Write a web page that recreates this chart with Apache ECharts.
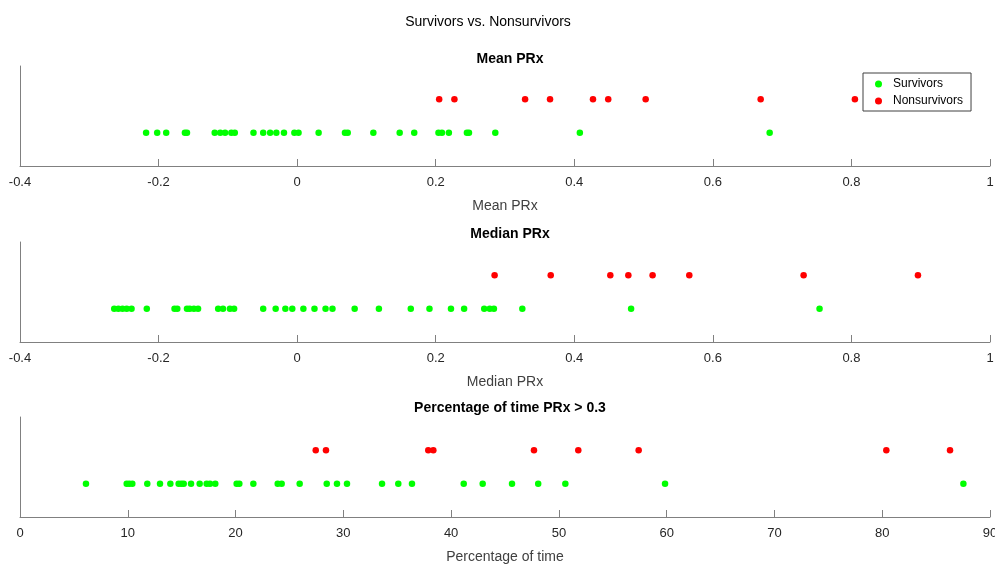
<!DOCTYPE html>
<html>
<head>
<meta charset="utf-8">
<script src="https://cdn.jsdelivr.net/npm/echarts@6/dist/echarts.min.js"></script>
<style>html,body{margin:0;padding:0;background:#fff}#c{width:995px;height:566px}</style>
</head>
<body>
<div id="c"></div>
<script>
// ---- data ----
const meanSurvivors = [-0.218,-0.202,-0.189,-0.162,-0.159,-0.119,-0.111,-0.104,-0.095,-0.090,-0.063,-0.049,-0.039,-0.030,-0.019,-0.004,0.002,0.031,0.069,0.073,0.110,0.148,0.169,0.204,0.209,0.219,0.245,0.248,0.286,0.408,0.682];
const meanNonsurvivors = [0.205,0.227,0.329,0.365,0.427,0.449,0.503,0.669,0.805];
const medianSurvivors = [-0.264,-0.258,-0.252,-0.246,-0.239,-0.217,-0.177,-0.173,-0.159,-0.155,-0.149,-0.143,-0.114,-0.107,-0.097,-0.091,-0.049,-0.031,-0.017,-0.007,0.009,0.025,0.041,0.051,0.083,0.118,0.164,0.191,0.222,0.241,0.270,0.278,0.284,0.325,0.482,0.754];
const medianNonsurvivors = [0.285,0.366,0.452,0.478,0.513,0.566,0.731,0.896];
const pctSurvivors = [6.12,9.90,10.14,10.42,11.81,12.99,13.95,14.72,14.97,15.19,15.87,16.67,17.32,17.63,18.12,20.10,20.35,21.65,23.91,24.28,25.95,28.46,29.41,30.34,33.59,35.10,36.37,41.17,42.93,45.65,48.08,50.60,59.85,87.53];
const pctNonsurvivors = [27.44,28.39,37.88,38.35,47.69,51.80,57.40,80.38,86.29];
const panelTitles = ['Mean PRx','Median PRx','Percentage of time PRx > 0.3'];
const axisNames = ['Mean PRx','Median PRx','Percentage of time'];
const mainTitle = 'Survivors vs. Nonsurvivors';
const rowSurvivors = 1, rowNonsurvivors = 2;

const FONT = '"Liberation Sans", Arial, Helvetica, sans-serif';
const GREEN = '#00ff00', RED = '#ff0000';
const gridTops = [66, 242, 417];
const xRanges = [[-0.4,1,0.2],[-0.4,1,0.2],[0,90,10]];

const chart = echarts.init(document.getElementById('c'), null, {renderer:'canvas'});

const grids = gridTops.map(t => ({left:20, right:5, top:t, height:100, outerBoundsMode:'none', containLabel:false}));
const xAxes = xRanges.map((r,i) => ({
  gridIndex:i, type:'value', min:r[0], max:r[1], interval:r[2],
  name: axisNames[i], nameLocation:'middle', nameGap:33,
  nameTextStyle:{color:'#404040', fontSize:14, fontFamily:FONT},
  axisLine:{show:true, onZero:false, lineStyle:{color:'#808080', width:1}},
  axisTick:{show:true, inside:true, length:7, lineStyle:{color:'#808080'}},
  axisLabel:{color:'#262626', fontSize:13, fontFamily:FONT, margin:10},
  splitLine:{show:false}
}));
const yAxes = xRanges.map((r,i) => ({
  gridIndex:i, type:'value', min:0, max:3, position:'left',
  axisLine:{show:true, onZero:false, lineStyle:{color:'#808080', width:1}},
  axisTick:{show:false}, axisLabel:{show:false}, splitLine:{show:false}
}));

function pts(arr, row){ return arr.map(v => [v, row]); }
const groups = [[meanSurvivors, meanNonsurvivors],[medianSurvivors, medianNonsurvivors],[pctSurvivors, pctNonsurvivors]];
const series = [];
groups.forEach((g,i) => {
  series.push({name:'Survivors', type:'scatter', xAxisIndex:i, yAxisIndex:i, symbol:'circle', symbolSize:6.5,
    itemStyle:{color:GREEN, opacity:1}, data: pts(g[0], rowSurvivors), silent:true});
  series.push({name:'Nonsurvivors', type:'scatter', xAxisIndex:i, yAxisIndex:i, symbol:'circle', symbolSize:6.5,
    itemStyle:{color:RED, opacity:1}, data: pts(g[1], rowNonsurvivors), silent:true});
});

const titles = [
  {text: mainTitle, left:483, top:10, textAlign:'center', textStyle:{fontSize:14, fontWeight:'normal', color:'#000', fontFamily:FONT}},
  {text: panelTitles[0], left:505, top:47, textAlign:'center', textStyle:{fontSize:14, fontWeight:'bold', color:'#000', fontFamily:FONT}},
  {text: panelTitles[1], left:505, top:222, textAlign:'center', textStyle:{fontSize:14, fontWeight:'bold', color:'#000', fontFamily:FONT}},
  {text: panelTitles[2], left:505, top:396, textAlign:'center', textStyle:{fontSize:14, fontWeight:'bold', color:'#000', fontFamily:FONT}}
];

chart.setOption({
  animation:false,
  backgroundColor:'#fff',
  title: titles,
  grid: grids,
  xAxis: xAxes,
  yAxis: yAxes,
  legend:{
    data:['Survivors','Nonsurvivors'], orient:'vertical', left:863, top:73,
    width:118, itemWidth:7, itemHeight:7, itemGap:5, icon:'circle',
    borderColor:'#404040', borderWidth:1, padding:[5,8,4,12],
    textStyle:{fontSize:12, color:'#000', fontFamily:FONT, padding:[0,0,0,6]},
    backgroundColor:'#fff', selectedMode:false
  },
  series: series
});
</script>
</body>
</html>
